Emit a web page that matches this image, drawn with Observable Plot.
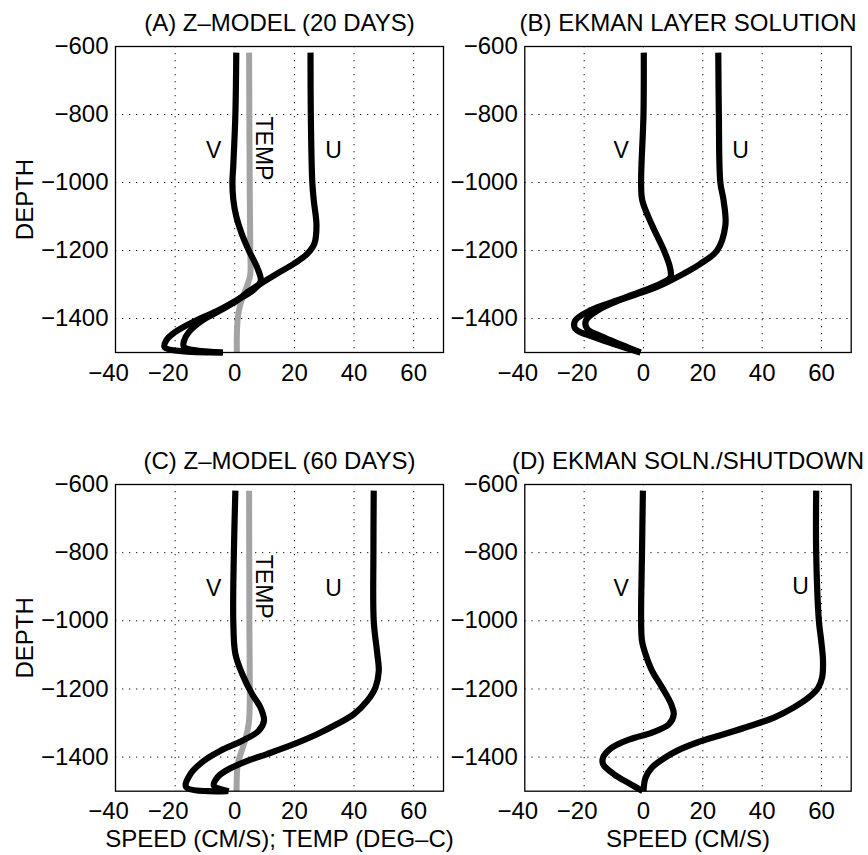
<!DOCTYPE html>
<html><head><meta charset="utf-8">
<script src="https://cdn.jsdelivr.net/npm/d3@7"></script>
<script src="https://cdn.jsdelivr.net/npm/@observablehq/plot@0.6"></script>
<style>
body{margin:0;background:#fff;}
#wrap{position:relative;width:868px;height:855px;font-family:"Liberation Sans",Arial,Helvetica,sans-serif;}
#wrap svg{position:absolute;}
</style></head><body><div id="wrap"></div>
<script>
// ---- ticks ----
const XTICKS = [-40, -20, 0, 20, 40, 60];
const XGRID = [-20, 0, 20, 40, 60];
const YTICKS = [-600, -800, -1000, -1200, -1400];
const XDOMAIN = [-40, 70];
const YDOMAIN = [-1500, -600];

// ---- titles ----
const TITLES = ["(A) Z\u2013MODEL (20 DAYS)", "(B) EKMAN LAYER SOLUTION", "(C) Z\u2013MODEL (60 DAYS)", "(D) EKMAN SOLN./SHUTDOWN"];
const XLABELS = ["", "", "SPEED (CM/S); TEMP (DEG\u2013C)", "SPEED (CM/S)"];
const YLABEL = "DEPTH";

// ---- panel A: z-model 20 days ----
const aV_depth = [-618,-800,-950,-1000,-1050,-1100,-1150,-1200,-1250,-1290,-1318,-1347,-1376,-1406,-1440,-1465,-1485,-1500];
const aV_speed = [0.5,0.2,-0.5,-0.8,-0.5,0.5,2.3,4.7,7.5,8.7,6,0.5,-5.5,-13,-20,-23,-23.5,-4];
const aU_depth = [-618,-800,-1000,-1053,-1126,-1180,-1210,-1239,-1268,-1298,-1323,-1347,-1376,-1406,-1440,-1465,-1484,-1500];
const aU_speed = [25.4,25.5,26,26.5,27.4,26.7,24.3,19.8,14.2,8.6,4.2,0.8,-4.8,-10.9,-15.4,-17,-17,-4];
const aT_depth = [-618,-1000,-1200,-1270,-1300,-1330,-1360,-1400,-1450,-1500];
const aT_temp  = [4.8,5.0,5.2,5.2,4.3,3.0,1.8,1.0,0.7,0.7];

// ---- panel B: Ekman layer solution ----
const bV_depth = [-618,-800,-1000,-1053,-1126,-1200,-1249,-1278,-1298,-1318,-1347,-1376,-1406,-1430,-1455,-1475,-1500];
const bV_speed = [0.1,0,-0.8,-0.4,2.9,6.9,8.9,9.1,5.7,0,-8.9,-17.9,-23,-23,-16.7,-10,-1];
const bU_depth = [-618,-800,-1000,-1053,-1126,-1200,-1239,-1268,-1298,-1318,-1347,-1376,-1406,-1430,-1455,-1484,-1500];
const bU_speed = [25.2,25.4,25.9,27,27.6,24.8,19.2,13.6,6.8,1.2,-8.3,-15.4,-19.4,-19,-13.4,-5.5,-1];

// ---- panel C: z-model 60 days ----
const cV_depth = [-618,-800,-1000,-1097,-1156,-1215,-1254,-1293,-1323,-1352,-1381,-1411,-1450,-1488,-1500];
const cV_speed = [0.2,-0.3,-0.5,0.2,2.5,5.8,8.6,9.8,8,2.5,-4.8,-10.4,-14.9,-16.3,-2.5];
const cU_depth = [-618,-800,-1000,-1097,-1147,-1195,-1235,-1274,-1303,-1333,-1362,-1391,-1411,-1440,-1460,-1484,-1500];
const cU_speed = [46.6,46.5,46.6,47.8,48.3,47.2,44.4,39.9,34.3,27.6,19.8,10.8,4.2,-3,-5.9,-7,-2];
const cT_depth = [-618,-1000,-1250,-1300,-1350,-1390,-1420,-1500];
const cT_temp  = [4.8,4.9,5.0,4.7,3.5,2.0,1.0,0.6];

// ---- panel D: Ekman soln./shutdown ----
const dV_depth = [-618,-800,-999,-1059,-1098,-1147,-1196,-1244,-1274,-1303,-1328,-1347,-1372,-1401,-1421,-1450,-1479,-1500];
const dV_speed = [-0.2,-0.5,-0.8,-0.5,0.7,2.9,6.3,9.3,10.2,8.6,2.9,-4.4,-10.6,-13.6,-13.6,-10,-4.4,-0.3];
const dU_depth = [-618,-800,-999,-1059,-1117,-1166,-1196,-1225,-1254,-1284,-1308,-1333,-1357,-1381,-1401,-1430,-1460,-1500];
const dU_speed = [58.2,58.2,59.1,59.9,60.5,60.2,58.9,55.7,50.7,44,36.1,27.1,18.1,11.4,7.4,2.9,0.7,0];

// ---- in-plot curve labels (data coordinates) ----
const aLabels = [{t:"V", x:-7.1, y:-906}, {t:"U", x:33.1, y:-906}];
const bLabels = [{t:"V", x:-7.5, y:-906}, {t:"U", x:32.7, y:-906}];
const cLabels = [{t:"V", x:-7.1, y:-906}, {t:"U", x:33.1, y:-906}];
const dLabels = [{t:"V", x:-7.5, y:-906}, {t:"U", x:52.9, y:-900}];
const tempLabel = {t:"TEMP", x:9.7, y:-900};

const zip = (d, v) => d.map((di, i) => ({d: di, v: v[i]}));
const fmt = d => d < 0 ? "\u2212" + Math.abs(d) : String(d);
const FONT = "Liberation Sans, Arial, Helvetica, sans-serif";

function panel(cfg) {
  const marks = [
    Plot.gridX(XGRID, {stroke: "#000", strokeOpacity: 0.9, strokeWidth: 1, strokeDasharray: "1.3,5.7"}),
    Plot.gridY(YTICKS.slice(1), {stroke: "#000", strokeOpacity: 0.9, strokeWidth: 1, strokeDasharray: "1.3,5.7"})
  ];
  if (cfg.temp) {
    marks.push(Plot.line(cfg.temp, {x: "v", y: "d", stroke: "#a3a3a3", strokeWidth: 6, curve: "catmull-rom", strokeLinecap: "butt"}));
  }
  marks.push(
    Plot.line(cfg.V, {x: "v", y: "d", stroke: "#000", strokeWidth: 6.2, curve: "catmull-rom", strokeLinecap: "butt", strokeLinejoin: "round"}),
    Plot.line(cfg.U, {x: "v", y: "d", stroke: "#000", strokeWidth: 6.2, curve: "catmull-rom", strokeLinecap: "butt", strokeLinejoin: "round"}),
    Plot.frame({stroke: "#000", strokeWidth: 1.3}),
    Plot.axisY(YTICKS, {tickSize: 0, tickPadding: 7, tickFormat: fmt, fontSize: 24, label: null}),
    Plot.axisX(XTICKS.filter(d => d < 0), {tickSize: 0, tickPadding: 11, tickFormat: fmt, fontSize: 24, dx: -7, label: null}),
    Plot.axisX(XTICKS.filter(d => d >= 0), {tickSize: 0, tickPadding: 11, tickFormat: fmt, fontSize: 24, label: null}),
    Plot.text([cfg.title], {frameAnchor: "top", dy: -23, textAnchor: "middle", lineAnchor: "middle", fontSize: 24, fill: "#000"}),
    Plot.text(cfg.labels, {x: "x", y: "y", text: "t", fontSize: 23, fill: "#000"})
  );
  if (cfg.temp) {
    marks.push(Plot.text([tempLabel], {x: "x", y: "y", text: "t", rotate: 90, fontSize: 23, fill: "#000"}));
  }
  if (cfg.ylabel) {
    marks.push(Plot.text([YLABEL], {frameAnchor: "left", dx: -90.5, rotate: -90, textAnchor: "middle", lineAnchor: "middle", fontSize: 24, fill: "#000"}));
  }
  if (cfg.xlabel) {
    marks.push(Plot.text([cfg.xlabel], {frameAnchor: "bottom", dy: 48, textAnchor: "middle", lineAnchor: "middle", fontSize: 24, fill: "#000"}));
  }
  const svg = Plot.plot({
    width: cfg.width, height: cfg.height,
    marginLeft: cfg.ml, marginRight: cfg.mr, marginTop: 46, marginBottom: cfg.mb,
    x: {domain: XDOMAIN, axis: null},
    y: {domain: YDOMAIN, axis: null},
    style: {background: "transparent", overflow: "visible", fontFamily: FONT, fontSize: "24px", color: "#000"},
    marks
  });
  svg.style.left = cfg.left + "px";
  svg.style.top = cfg.top + "px";
  return svg;
}

const wrap = document.getElementById("wrap");
// plot box: left col x 115..443, right col x 524.3..850.7; top row y 46..352, bottom row y 484..790.7
wrap.appendChild(panel({title: TITLES[0], V: zip(aV_depth, aV_speed), U: zip(aU_depth, aU_speed), temp: zip(aT_depth, aT_temp), labels: aLabels,
  ylabel: true, xlabel: XLABELS[0], left: 0, top: 0, width: 470, ml: 115, mr: 27, height: 400, mb: 48}));
wrap.appendChild(panel({title: TITLES[1], V: zip(bV_depth, bV_speed), U: zip(bU_depth, bU_speed), labels: bLabels,
  ylabel: false, xlabel: XLABELS[1], left: 434, top: 0, width: 434, ml: 90.3, mr: 17.3, height: 400, mb: 48}));
wrap.appendChild(panel({title: TITLES[2], V: zip(cV_depth, cV_speed), U: zip(cU_depth, cU_speed), temp: zip(cT_depth, cT_temp), labels: cLabels,
  ylabel: true, xlabel: XLABELS[2], left: 0, top: 438, width: 470, ml: 115, mr: 27, height: 417, mb: 64.3}));
wrap.appendChild(panel({title: TITLES[3], V: zip(dV_depth, dV_speed), U: zip(dU_depth, dU_speed), labels: dLabels,
  ylabel: false, xlabel: XLABELS[3], left: 434, top: 438, width: 434, ml: 90.3, mr: 17.3, height: 417, mb: 64.3}));
</script>
</body></html>
